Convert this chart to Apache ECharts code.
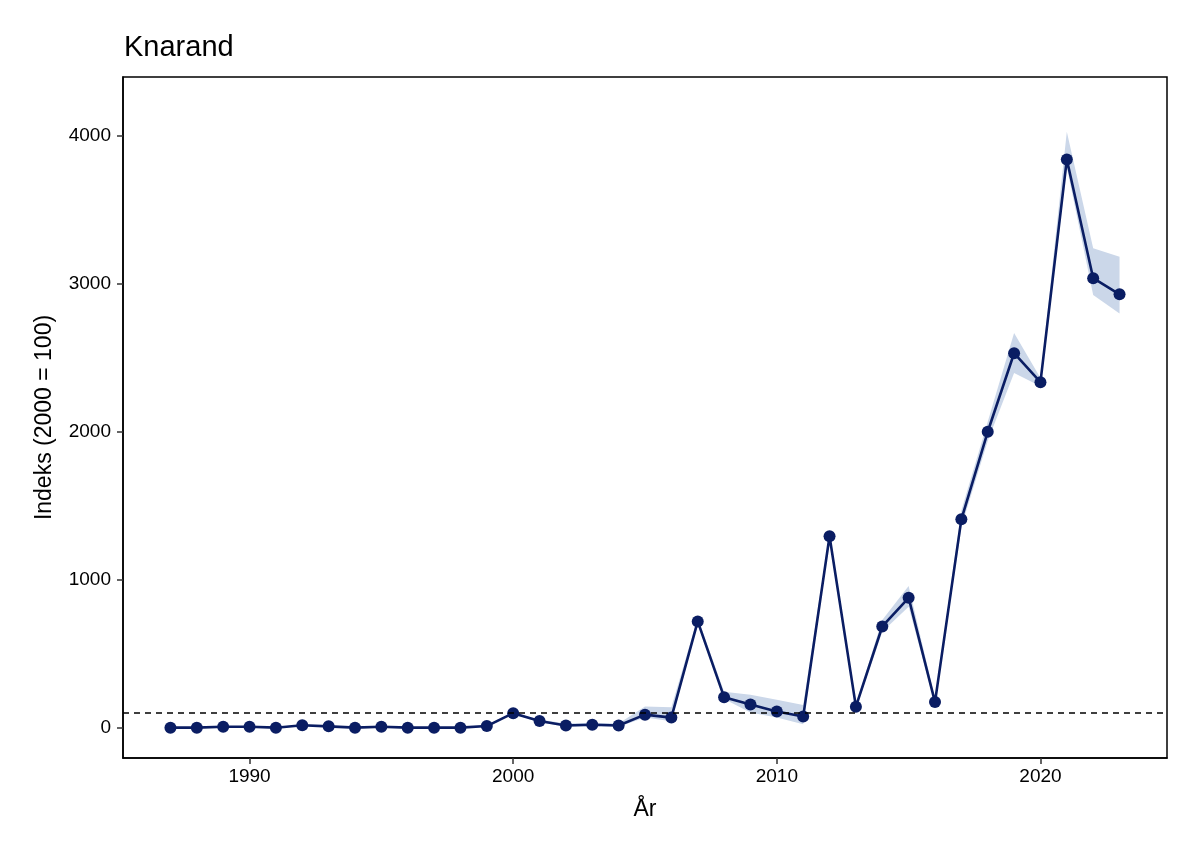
<!DOCTYPE html>
<html>
<head>
<meta charset="utf-8">
<script src="https://cdn.jsdelivr.net/npm/echarts@6/dist/echarts.min.js"></script>
<style>html,body{margin:0;padding:0;background:#fff}#c{width:1200px;height:857px}</style>
</head>
<body>
<div id="c"></div>
<script>
const years = [1987,1988,1989,1990,1991,1992,1993,1994,1995,1996,1997,1998,1999,2000,2001,2002,2003,2004,2005,2006,2007,2008,2009,2010,2011,2012,2013,2014,2015,2016,2017,2018,2019,2020,2021,2022,2023];
const indexValues = [2,2,8,8,2,18,11,2,8,2,2,2,13,100,47,17,22,17,90,70,720,208,158,111,77,1296,144,686,880,175,1410,2002,2533,2337,3842,3040,2931];
const lowerCI = [0,0,4,4,0,12,6,0,4,0,0,0,6,95,38,8,14,8,70,45,700,195,105,70,25,1280,128,650,820,160,1360,1940,2400,2310,3790,2926,2802];
const upperCI = [6,6,12,12,6,24,16,6,12,6,6,6,20,105,58,30,36,30,145,140,745,245,225,190,155,1320,165,730,960,200,1470,2070,2670,2365,4030,3243,3185];
const xTicks = [1990,2000,2010,2020];
const yTicks = [0,1000,2000,3000,4000];
const refLine = 100;

const lineData = years.map((y,i)=>[y, indexValues[i]]);
const bandData = years.map((y,i)=>[y, lowerCI[i], upperCI[i]]);

const font = '"Liberation Sans", Arial, sans-serif';
const chart = echarts.init(document.getElementById('c'), null, {renderer:'canvas'});
chart.setOption({
  animation:false,
  backgroundColor:'#fff',
  title:{text:'Knarand', left:119, top:28, textStyle:{fontFamily:font, fontSize:29, fontWeight:'normal', color:'#000'}},
  grid:{left:123, right:33, top:77, bottom:99, show:true, borderColor:'#000', borderWidth:1.5, backgroundColor:'transparent'},
  xAxis:{type:'value', min:1985.2, max:2024.8,
    name:'År', nameLocation:'middle', nameGap:40, nameTextStyle:{fontFamily:font, fontSize:23, color:'#000'},
    axisLine:{show:true, onZero:false, lineStyle:{color:'#000', width:1.5}},
    axisTick:{show:true, length:6, lineStyle:{color:'#333', width:1.5}, customValues:xTicks},
    axisLabel:{fontFamily:font, fontSize:19, color:'#000', margin:9, customValues:xTicks, formatter:v=>String(v)},
    splitLine:{show:false}},
  yAxis:{type:'value', min:-203, max:4400,
    name:'Indeks (2000 = 100)', nameLocation:'middle', nameGap:67, nameTextStyle:{fontFamily:font, fontSize:23, color:'#000'},
    axisLine:{show:true, onZero:false, lineStyle:{color:'#000', width:1.5}},
    axisTick:{show:true, length:6, lineStyle:{color:'#333', width:1.5}, customValues:yTicks},
    axisLabel:{fontFamily:font, fontSize:19, color:'#000', margin:12, customValues:yTicks, formatter:v=>String(v)},
    splitLine:{show:false}},
  series:[
    {type:'custom', data:bandData, silent:true, z:1,
      encode:{x:0, y:[1,2]},
      renderItem:function(params, api){
        if (params.dataIndex !== 0) return null;
        const up = [], lo = [];
        for (let i=0;i<bandData.length;i++){
          up.push(api.coord([bandData[i][0], bandData[i][2]]));
          lo.push(api.coord([bandData[i][0], bandData[i][1]]));
        }
        const pts = up.concat(lo.reverse());
        return {type:'polygon', shape:{points:pts}, style:{fill:'#cbd7e9', stroke:'none'}};
      }},
    {type:'line', data:lineData, symbol:'circle', symbolSize:12, itemStyle:{color:'#0a1d63'}, lineStyle:{color:'#0a1d63', width:2.6}, z:3,
      markLine:{silent:true, symbol:'none', label:{show:false}, lineStyle:{color:'#000', type:[6,5], width:1.5}, data:[{yAxis:refLine}]}}
  ]
});
</script>
</body>
</html>
